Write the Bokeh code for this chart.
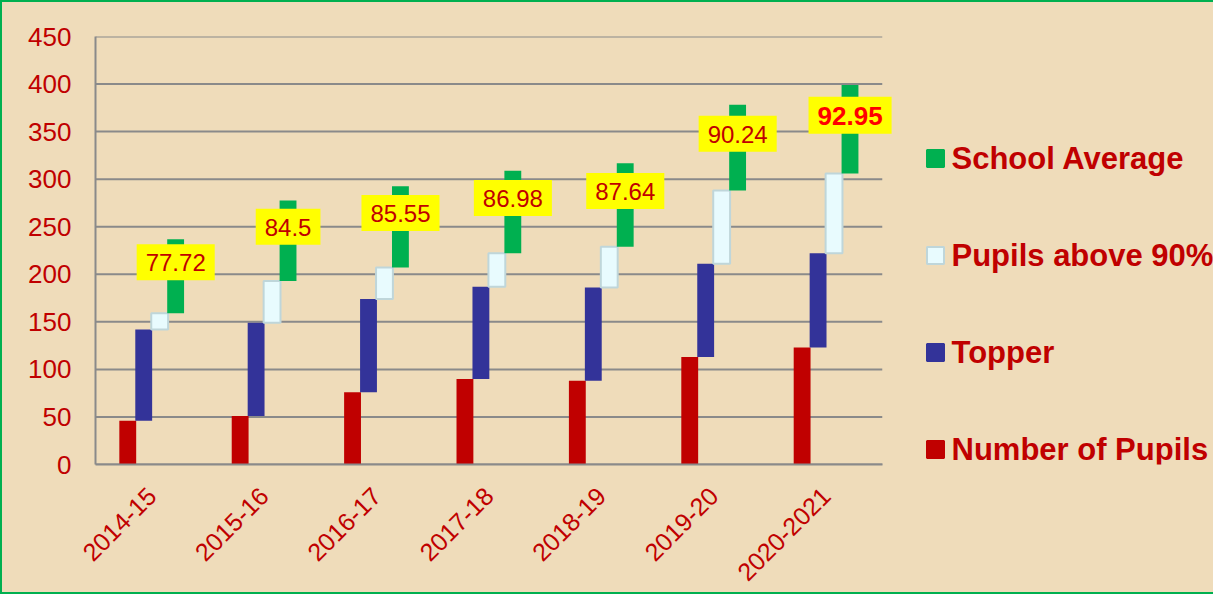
from math import pi
from bokeh.plotting import figure
from bokeh.layouts import row
from bokeh.models import ColumnDataSource, Range1d, FixedTicker, Label
from bokeh.transform import dodge
from bokeh.core.properties import value
from bokeh.embed import file_html
from bokeh.resources import INLINE

# ---- data ----
years = ["2014-15", "2015-16", "2016-17", "2017-18", "2018-19", "2019-20", "2020-2021"]
num_pupils = [46, 51, 76, 90, 88, 113, 123]
topper = [96, 98, 98, 97, 98, 98, 99]
above_90 = [17, 44, 33, 35, 43, 77, 84]
school_avg = [77.72, 84.5, 85.55, 86.98, 87.64, 90.24, 92.95]
y_ticks = [0, 50, 100, 150, 200, 250, 300, 350, 400, 450]
series_names = ["School Average", "Pupils above 90%", "Topper", "Number of Pupils"]

# ---- style ----
BG = "#EFDCBA"
RED = "#C00000"
BLUE = "#333399"
GREEN = "#00B050"
WHITE = "#E8FBFE"
WHITE_LINE = "#BFD6DA"
GRID = "#8A8A8A"
FONT = "Liberation Sans"

# category positions and stacked levels
xc = list(range(1, len(years) + 1))
t0 = list(num_pupils)
t1 = [a + b for a, b in zip(t0, topper)]
t2 = [a + b for a, b in zip(t1, above_90)]
t3 = [a + b for a, b in zip(t2, school_avg)]
mid = [(a + b) / 2 for a, b in zip(t2, t3)]

src = ColumnDataSource(dict(xc=xc, t0=t0, t1=t1, t2=t2, t3=t3))

H = 590
W1 = 905
TOP, BOTTOM = 34, 128
p = figure(x_range=Range1d(0.5, len(years) + 0.6), y_range=Range1d(0, 450),
           width=W1, height=H, output_backend="svg", toolbar_location=None,
           min_border_left=93, min_border_right=14, min_border_top=TOP,
           min_border_bottom=BOTTOM,
           background_fill_color=BG, border_fill_color=BG, outline_line_color=None)

# horizontal grid lines spanning the categories only
p.segment(x0=0.5, x1=len(years) + 0.5, y0=y_ticks, y1=y_ticks,
          line_color=GRID, line_width=2)

bw = 0.15
r_red = p.vbar(x=dodge("xc", -0.213), bottom=0, top="t0", width=bw,
               source=src, fill_color=RED, line_color=None)
r_blue = p.vbar(x=dodge("xc", -0.071), bottom="t0", top="t1", width=bw,
                source=src, fill_color=BLUE, line_color=None)
r_white = p.vbar(x=dodge("xc", 0.071), bottom="t1", top="t2", width=bw,
                 source=src, fill_color=WHITE, line_color=WHITE_LINE, line_width=2)
r_green = p.vbar(x=dodge("xc", 0.213), bottom="t2", top="t3", width=bw,
                 source=src, fill_color=GREEN, line_color=None)

# value labels (School Average) in yellow boxes
last = len(years) - 1
for i, (c, m, v) in enumerate(zip(xc, mid, school_avg)):
    big = i == last
    p.add_layout(Label(x=c, y=m, text=f"{v:g}", x_offset=24, y_offset=14,
                       text_align="center", text_baseline="middle",
                       text_color="#FF0000" if big else RED, text_font=FONT,
                       text_font_size="26px" if big else "24px",
                       text_font_style="bold" if big else "normal",
                       background_fill_color="#FFFF00",
                       padding=dict(left=9, right=9, top=10, bottom=9)))

# grid & axes
p.xgrid.grid_line_color = None
p.ygrid.grid_line_color = None
p.yaxis.ticker = FixedTicker(ticks=y_ticks)
p.xaxis.ticker = FixedTicker(ticks=xc)
p.xaxis.major_label_overrides = {c: y for c, y in zip(xc, years)}
p.xaxis.bounds = (0.5, len(years) + 0.5)
for ax in (p.xaxis, p.yaxis):
    ax.axis_line_color = GRID
    ax.axis_line_width = 2
    ax.major_tick_line_color = None
    ax.minor_tick_line_color = None
    ax.major_tick_out = 0
    ax.major_tick_in = 0
    ax.minor_tick_out = 0
    ax.major_label_text_color = RED
    ax.major_label_text_font = FONT
p.yaxis.major_label_text_font_size = "26px"
p.yaxis.major_label_standoff = 24
p.xaxis.major_label_text_font_size = "25px"
p.xaxis.major_label_orientation = pi / 4
p.xaxis.major_label_standoff = 27

# ---- legend panel (its frame is aligned with the chart's frame; y in canvas px) ----
W2 = 1211 - W1
q = figure(x_range=Range1d(W1, 1211), y_range=Range1d(H - BOTTOM, TOP),
           width=W2, height=H, output_backend="svg", toolbar_location=None,
           min_border_left=0, min_border_right=0, min_border_top=TOP,
           min_border_bottom=BOTTOM,
           background_fill_color=BG, border_fill_color=BG, outline_line_color=None)
q.axis.visible = False
q.grid.visible = False
leg_y = [156 + 97 * i for i in range(len(series_names))]
q.scatter(x=933, y=leg_y, marker="square", size=17,
          fill_color=[GREEN, WHITE, BLUE, RED],
          line_color=[GREEN, WHITE_LINE, BLUE, RED], line_width=2)
q.text(x=949, y=leg_y, text=series_names, text_align="left", text_baseline="middle",
       text_color=RED, text_font=value(FONT), text_font_style="bold",
       text_font_size="31px")

layout = row(p, q)
layout.styles = {"border-left": "2px solid #00B050", "border-top": "2px solid #00B050",
                 "border-bottom": "2px solid #00B050", "background-color": BG}

open("out.html", "w").write(file_html(layout, INLINE))
